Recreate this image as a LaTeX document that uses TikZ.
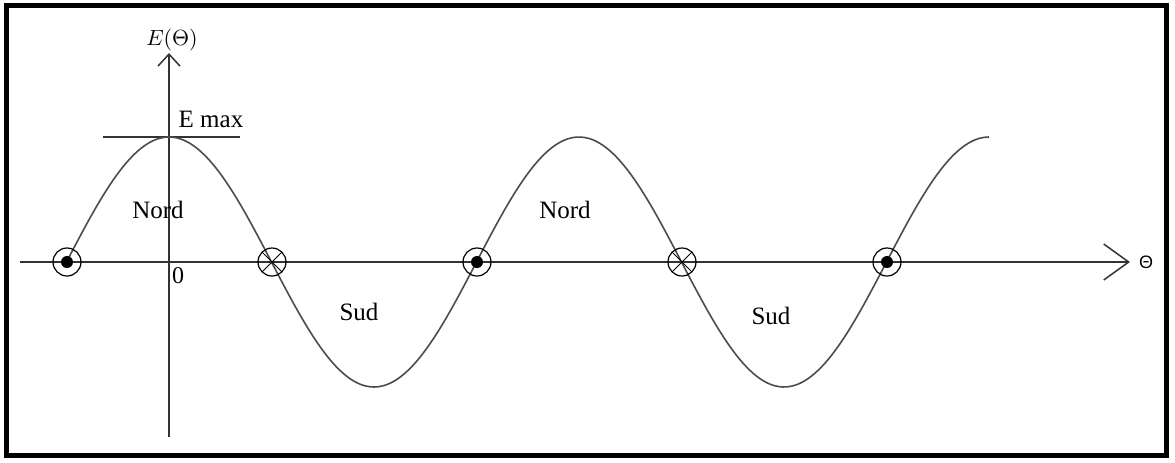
\documentclass[tikz,border=0pt]{standalone}
\usepackage{fontspec}
\setmainfont{Liberation Serif}
\newfontfamily\arialfont{Liberation Sans}
\usetikzlibrary{arrows.meta}
\tikzset{
  axe/.style={draw=black!80, line width=0.75pt},
  courbe/.style={black!70, line width=0.8pt},
  pole/.style={circle, draw, line width=0.6pt, minimum size=14pt, inner sep=0pt},
  nordpole/.style={pole, path picture={\fill (path picture bounding box.center) circle (3pt);}},
  sudpole/.style={pole, path picture={\draw[line width=0.5pt]
      (path picture bounding box.center) ++(45:7pt) -- ++(225:14pt)
      (path picture bounding box.center) ++(135:7pt) -- ++(315:14pt);}},
  zone/.style={font=\fontsize{12.5}{15}\selectfont},
}

\begin{document}
\begin{tikzpicture}[x=0.5pt, y=-0.5pt]
    \useasboundingbox (0,0) rectangle (1175,462);
    \draw[line width=2.5pt] (6,5.5) rectangle (1166,455);
    % axes
    \coordinate (xa) at (20,262);  \coordinate (xb) at (1130,262);
    \coordinate (ya) at (169,437); \coordinate (yb) at (169,53);
    \draw[axe, -{Straight Barb[length=12.5pt, width=18pt]}] (xa) -- (xb);
    \draw[axe, -{Straight Barb[length=6pt, width=11pt]}] (ya) -- (yb);
    \node[font=\arialfont\fontsize{9}{11}\selectfont, right=1pt] (th) at (xb) {Θ};
    \node[font=\fontsize{10.5}{12}\selectfont] (eth) at (172,40) {$E(\Theta)$};
    \node[font=\fontsize{12}{14}\selectfont] (zero) at (178,276) {0};
    % E max
    \coordinate (ma) at (103,137); \coordinate (mb) at (240,137);
    \draw[axe, line width=0.6pt] (ma) -- (mb);
    \node[zone] (emax) at (211,119) {E max};
    % courbe
    \draw[courbe, domain=67:989, samples=220, smooth]
         plot (\x, {262-125*cos(0.878049*(\x-169))});
    \node[nordpole] (n1) at (67,262) {};
    \node[sudpole]  (s1) at (272,262) {};
    \node[nordpole] (n2) at (477,262) {};
    \node[sudpole]  (s2) at (682,262) {};
    \node[nordpole] (n3) at (887,262) {};
    \node[zone] (nord1) at (158,210) {Nord};
    \node[zone] (nord2) at (565,210) {Nord};
    \node[zone] (sud1) at (359,312) {Sud};
    \node[zone] (sud2) at (771,316) {Sud};
\end{tikzpicture}
\end{document}
